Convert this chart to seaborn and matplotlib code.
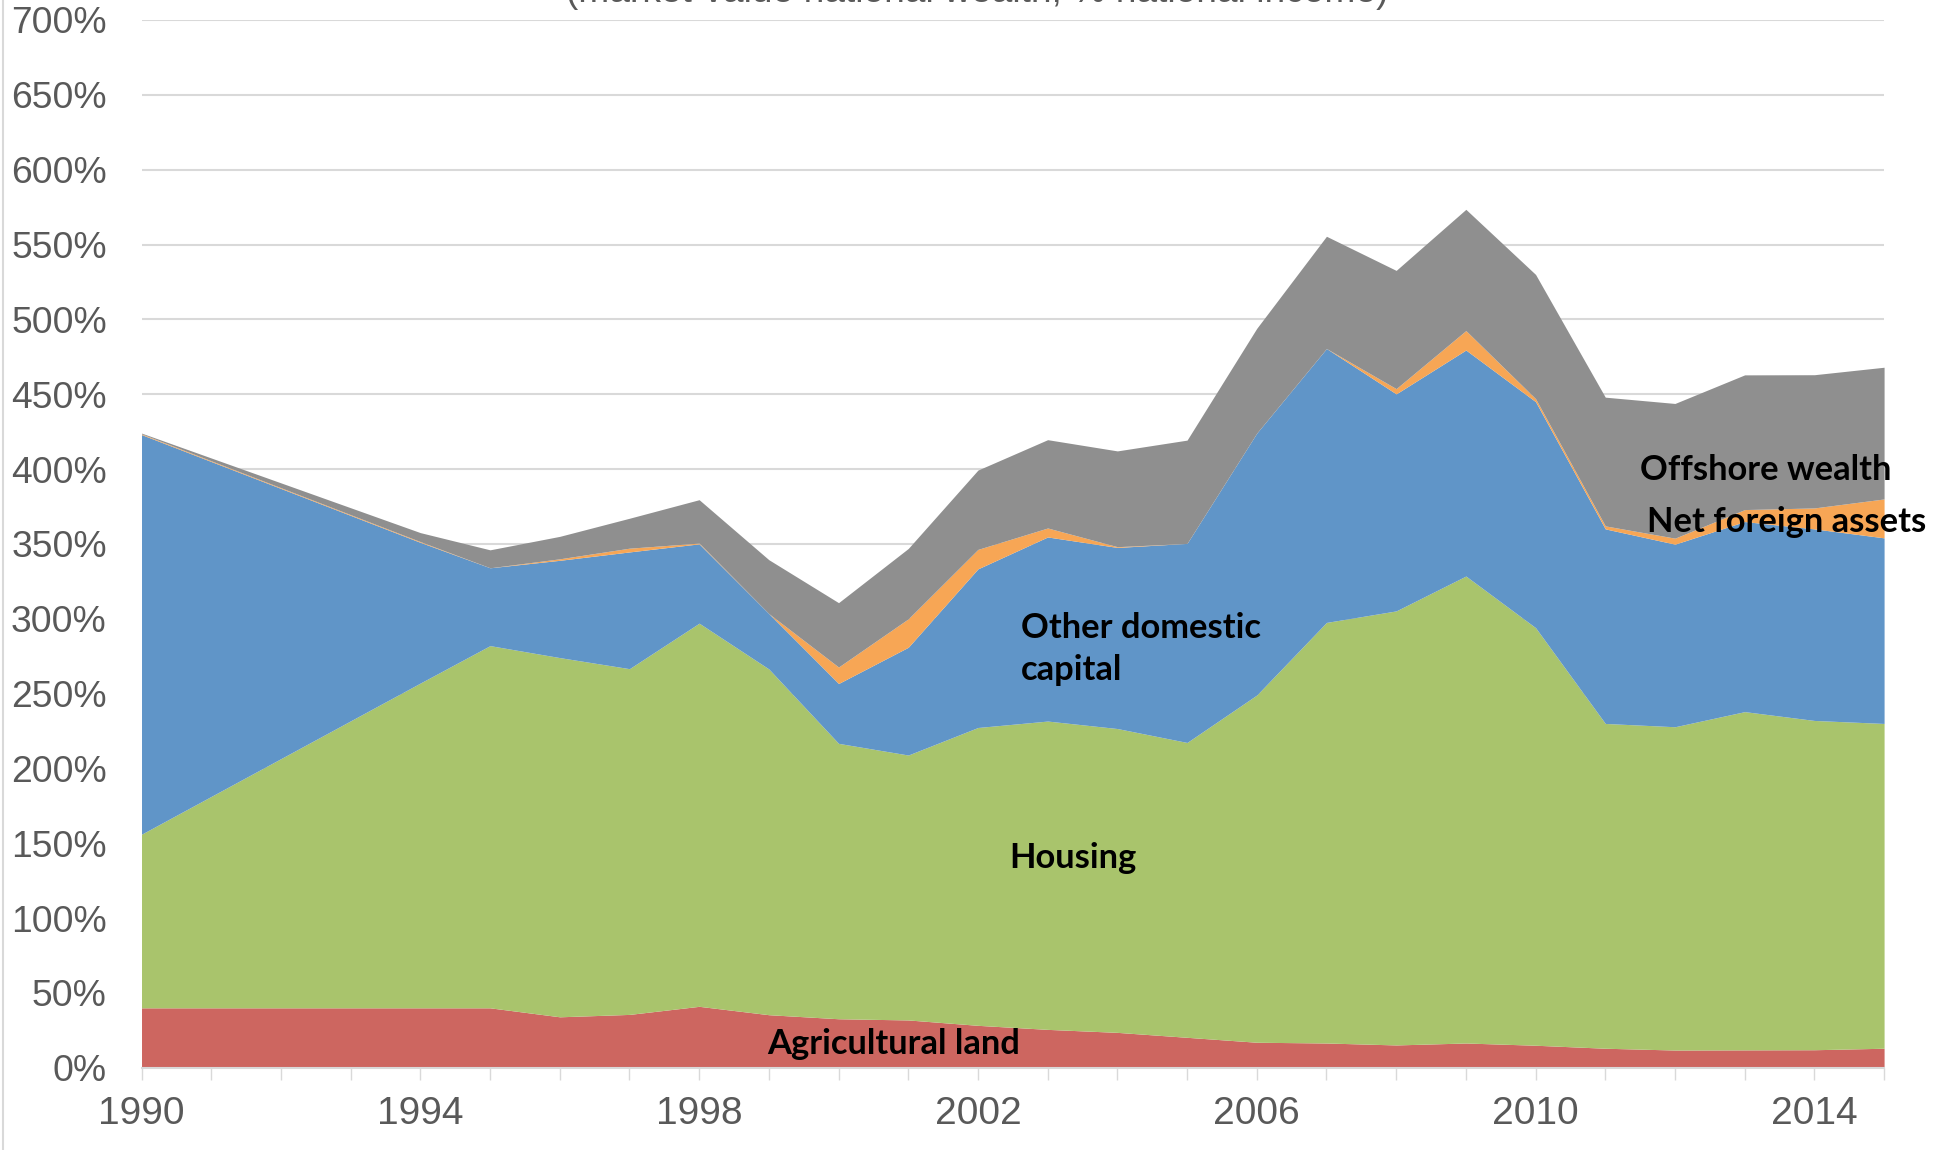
import matplotlib
matplotlib.use("Agg")
import matplotlib.pyplot as plt
from matplotlib.lines import Line2D
from matplotlib.ticker import FuncFormatter
import seaborn as sns

# Valeurs (% du revenu national)
years = [1990, 1994, 1995, 1996, 1997, 1998, 1999, 2000, 2001, 2002, 2003, 2004,
         2005, 2006, 2007, 2008, 2009, 2010, 2011, 2012, 2013, 2014, 2015]
agricultural_land = [40, 40, 40, 34, 35.6, 41, 35.4, 32.7, 31.9, 28.3, 25.6, 23.6,
                     20.3, 17, 16.5, 15.2, 16.5, 15, 13, 11.8, 11.9, 12, 13]
housing = [116, 217, 242, 240, 231, 256, 231, 184, 177, 199, 206, 203,
           197, 232, 281, 290, 312, 279, 217, 216, 226, 220, 217]
other_domestic = [267, 94, 52, 65, 78, 53, 37, 40, 72, 106, 123, 121,
                  133, 175, 183, 145, 151, 151, 130, 122, 127, 128, 124]
net_foreign = [0.5, 0.5, 0, 1, 2.5, 0.5, 0, 11, 19, 13, 6, 0.5,
               0, 0, 0, 3.5, 13, 2, 2, 4, 8, 14, 26]
offshore = [0.5, 6, 12, 15, 20, 29, 36, 43, 47, 53, 59, 64,
            69, 70, 75, 79, 81, 83, 86, 90, 90, 89, 88]

series_labels = ["Agricultural land", "Housing", "Other domestic capital",
                 "Net foreign assets", "Offshore wealth"]
colors = ["#CD6660", "#A9C46C", "#6095C8", "#F7A655", "#8F8F8F"]

title = "(market-value national wealth, % national income)"
year_ticks = list(range(1990, 2016))
labelled_years = [1990, 1994, 1998, 2002, 2006, 2010, 2014]

sns.set_style("white")
plt.rcParams["font.family"] = ["Liberation Sans", "DejaVu Sans"]

fig = plt.figure(figsize=(19.39, 11.5), dpi=100)
ax = fig.add_axes([0.07298, 0.07157, 0.8987, 0.91104])

ax.stackplot(years, agricultural_land, housing, other_domestic, net_foreign, offshore,
             colors=colors, labels=series_labels, linewidth=0, zorder=2)

ax.set_xlim(1990, 2015)
ax.set_ylim(0, 700)
ax.set_yticks(range(0, 701, 50))
ax.yaxis.set_major_formatter(FuncFormatter(lambda v, _: f"{v:.0f}%"))
ax.set_xticks(year_ticks)
ax.set_xticklabels([str(y) if y in labelled_years else "" for y in year_ticks])

ax.grid(False)
ax.yaxis.grid(True, color="#d9d9d9", linewidth=1.5)
ax.set_axisbelow(True)
for side in ["top", "right", "left"]:
    ax.spines[side].set_visible(False)
ax.spines["bottom"].set_color("#d9d9d9")
ax.spines["bottom"].set_linewidth(1.5)
ax.spines["bottom"].set_zorder(3)

ax.tick_params(axis="y", length=0, pad=25, labelsize=26.8, labelcolor="#595959")
ax.tick_params(axis="x", direction="out", length=8.6, width=1, color="#d9d9d9",
               pad=12, labelsize=28, labelcolor="#595959", bottom=True)

# Étiquettes des séries
lab = dict(fontsize=24.8, fontweight="bold", color="black",
           family=["Lato", "DejaVu Sans"], va="baseline", ha="left", zorder=5)
ax.text(2002.62, 286.8, "Other domestic", **lab)
ax.text(2002.62, 259.0, "capital", **lab)
ax.text(2002.45, 133.4, "Housing", **lab)
ax.text(1998.97, 9.2, "Agricultural land", **lab)
ax.text(2011.5, 392.6, "Offshore wealth", **lab)
ax.text(2011.6, 358.0, "Net foreign assets", **lab)

fig.text(0.504, 1 - 10 / 1150, title, ha="center", va="bottom",
         fontsize=26.7, color="#595959")

# bordure gauche de la zone du graphique
fig.add_artist(Line2D([2.5 / 1939, 2.5 / 1939], [0, 1], transform=fig.transFigure,
                      color="#d9d9d9", linewidth=1.5))

fig.savefig("out.png", dpi=100)
